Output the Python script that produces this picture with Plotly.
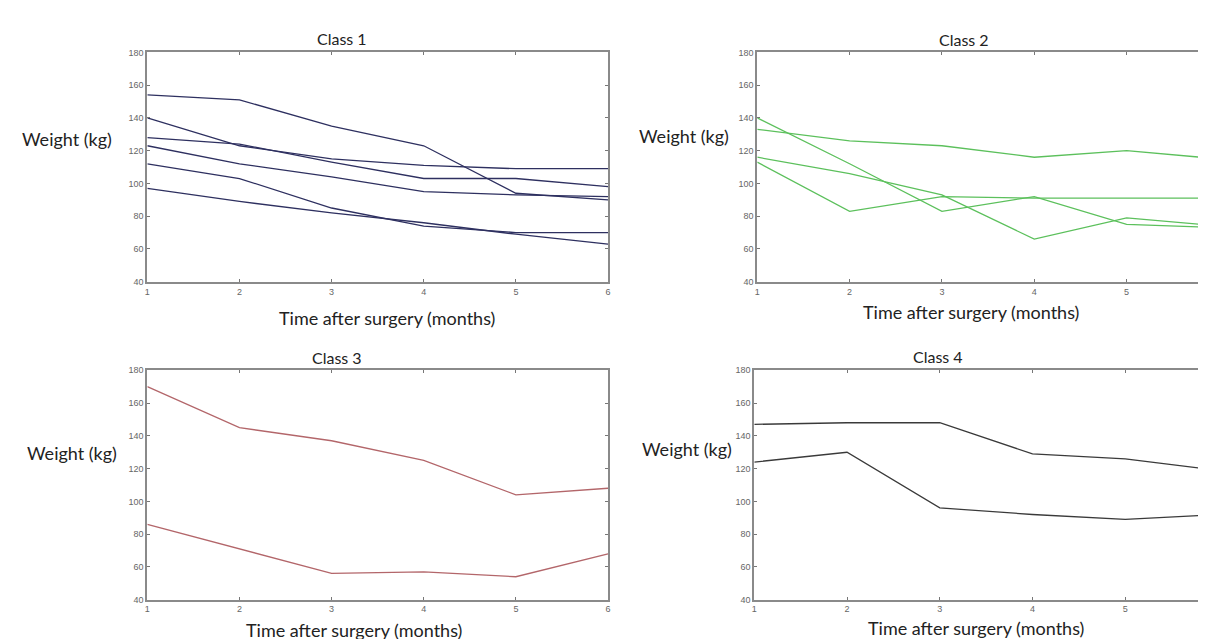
import plotly.graph_objects as go

months = [1, 2, 3, 4, 5, 6]
y_ticks = [40, 60, 80, 100, 120, 140, 160, 180]
x_ticks = [1, 2, 3, 4, 5, 6]

class1 = [
    [154, 151, 135, 123, 94, 90],
    [140, 123, 115, 111, 109, 109],
    [128, 124, 113, 103, 103, 98],
    [123, 112, 104, 95, 93, 92],
    [112, 103, 85, 74, 70, 70],
    [97, 89, 82, 76, 69, 63],
]
class2 = [
    [133, 126, 123, 116, 120, 115],
    [140, 112, 83, 92, 75, 73],
    [116, 106, 93, 66, 79, 74],
    [113, 83, 92, 91, 91, 91],
]
class3 = [
    [170, 145, 137, 125, 104, 108],
    [86, 71, 56, 57, 54, 68],
]
class4 = [
    [147, 148, 148, 129, 126, 119],
    [124, 130, 96, 92, 89, 92],
]

colors = ["#2e3060", "#5cc05c", "#b3666a", "#3a3a3a"]
titles = ["Class 1", "Class 2", "Class 3", "Class 4"]

W, H = 1206, 639
# panel boxes in pixels: (left, right, top, bottom, xmax)
boxes = [
    (137, 600, 40, 273, 6.0),
    (750, 1206, 40, 273, 5.914),
    (137, 600, 363, 596, 6.0),
    (747, 1206, 363, 596, 5.925),
]

fig = go.Figure()
data = [class1, class2, class3, class4]
for i, (series, col) in enumerate(zip(data, colors)):
    ax = "" if i == 0 else str(i + 1)
    for s in series:
        fig.add_trace(go.Scatter(x=months, y=s, mode="lines",
                                 line=dict(color=col, width=1.3),
                                 xaxis="x" + ax, yaxis="y" + ax,
                                 showlegend=False, hoverinfo="skip"))

layout = dict(width=W, height=H, margin=dict(l=0, r=0, t=0, b=0),
              paper_bgcolor="white", plot_bgcolor="white", showlegend=False)
axis_common = dict(showline=True, linecolor="#8a8a8a", linewidth=2, mirror="ticks",
                   ticks="inside", ticklen=3, tickcolor="#777", tickwidth=1,
                   showgrid=False, zeroline=False,
                   tickfont=dict(family="Liberation Sans, Arial", size=9, color="#666"))
for i, (l, r, t, b, xmax) in enumerate(boxes):
    n = "" if i == 0 else str(i + 1)
    layout["xaxis" + n] = dict(axis_common, domain=[l / W, r / W], range=[1, xmax],
                               tickvals=x_ticks, anchor="y" + n)
    layout["yaxis" + n] = dict(axis_common, domain=[1 - b / H, 1 - t / H], range=[40, 180],
                               tickvals=y_ticks, anchor="x" + n)
fig.update_layout(**layout)

font_t = dict(family="Lato, Open Sans", size=16, color="#222")
font_a = dict(family="Lato, Open Sans", size=18, color="#222")
ann = []
# class titles (x center px, y center px)
for txt, (x, y) in zip(titles, [(333, 26), (958, 27), (328, 350), (932, 349)]):
    ann.append(dict(text=txt, x=x / W, y=1 - y / H, xref="paper", yref="paper",
                    showarrow=False, font=font_t, xanchor="center", yanchor="middle"))
for (x, y) in [(56, 128), (676, 125), (61, 447), (679, 443)]:
    ann.append(dict(text="Weight (kg)", x=x / W, y=1 - y / H, xref="paper", yref="paper",
                    showarrow=False, font=font_a, xanchor="center", yanchor="middle"))
for (x, y) in [(378, 310), (965, 304), (345, 627), (970, 625)]:
    ann.append(dict(text="Time after surgery (months)", x=x / W, y=1 - y / H,
                    xref="paper", yref="paper", showarrow=False, font=font_a,
                    xanchor="center", yanchor="middle"))
fig.update_layout(annotations=ann)

fig.write_html("out.html")
